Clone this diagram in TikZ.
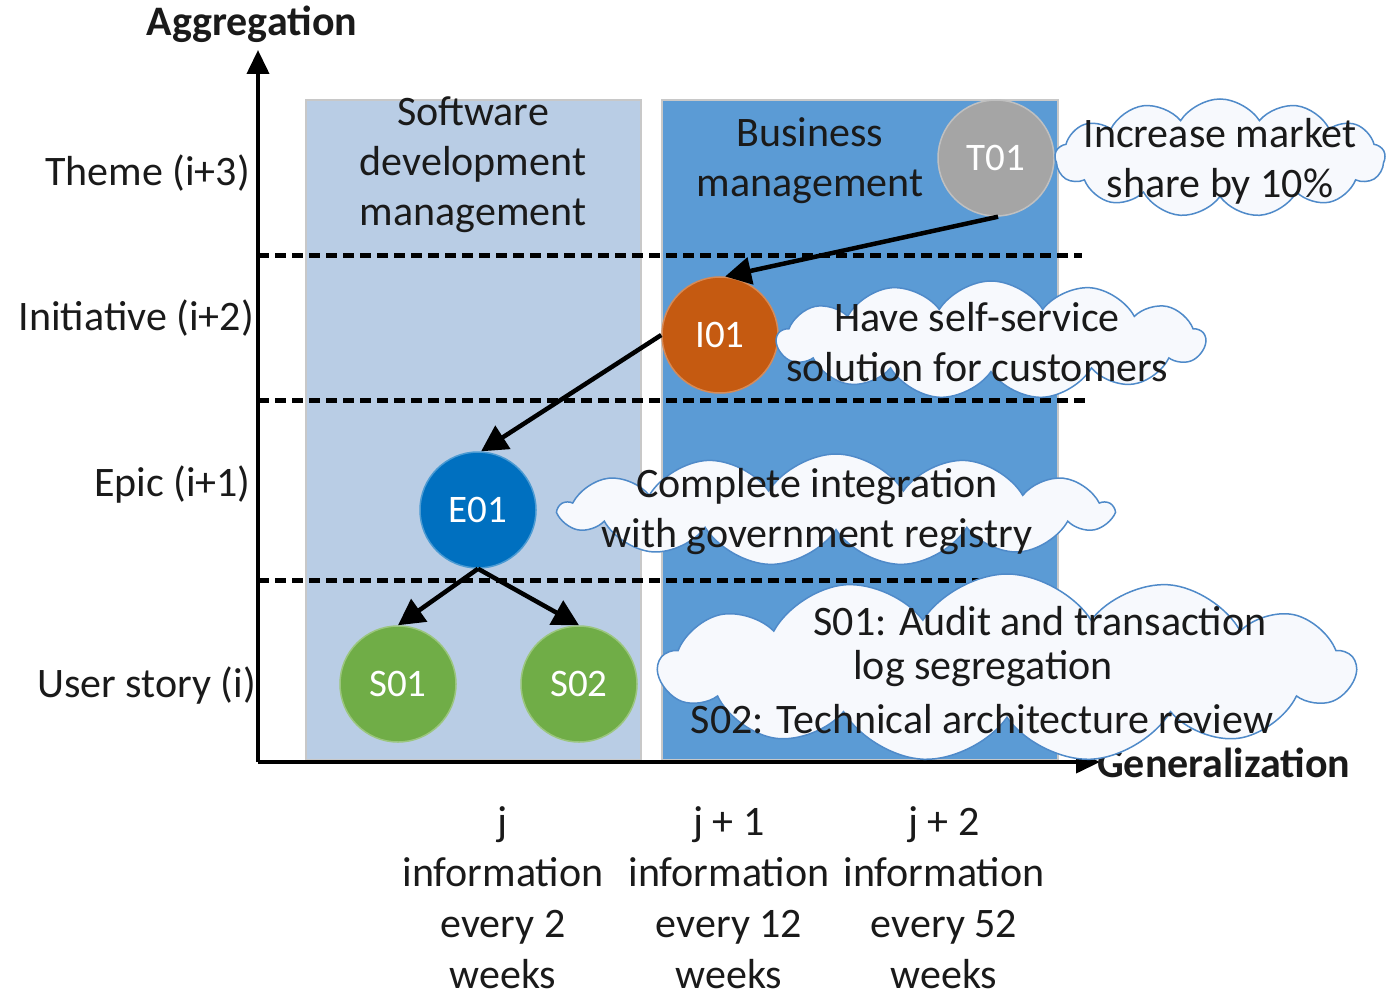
\documentclass[tikz,border=0pt]{standalone}
\usepackage{fontspec}
\setmainfont{Carlito}
\usetikzlibrary{shapes.symbols,arrows.meta}
\definecolor{lightbox}{HTML}{B9CDE5}
\definecolor{darkbox}{HTML}{5B9BD5}
\definecolor{boxedge}{HTML}{C8C8C8}
\definecolor{themec}{HTML}{A5A5A5}
\definecolor{initc}{HTML}{C55A11}
\definecolor{epicc}{HTML}{0070C0}
\definecolor{storyc}{HTML}{70AD47}
\definecolor{cloudline}{HTML}{4F8AC9}
\definecolor{cloudfill}{HTML}{F7F9FD}
\definecolor{txtc}{HTML}{1A1A1A}
\begin{document}
\begin{tikzpicture}[x=1pt,y=-1pt,
  txt/.style={font=\fontsize{42}{50}\selectfont, text=txtc, inner sep=0pt, align=center},
  low/.style={font=\fontsize{42}{51}\selectfont, text=txtc, inner sep=0pt, align=center},
  bold/.style={font=\fontsize{42}{50}\selectfont\bfseries, text=txtc, inner sep=0pt},
  circ/.style={circle, minimum size=116pt, inner sep=0pt, line width=1.5pt,
     font=\fontsize{39}{40}\selectfont, text=white},
  cloudbox/.style={cloud, cloud puffs=13, cloud puff arc=115, cloud ignores aspect,
     draw=cloudline, fill=cloudfill, line width=1.5pt, inner sep=0pt},
  sep/.style={dashed, dash pattern=on 11pt off 6pt, line width=5pt},
  axis/.style={line width=4pt, -{Triangle[length=24pt,width=22pt]}},
  link/.style={line width=4.5pt, -{Triangle[length=26pt,width=27pt]}}
]
\useasboundingbox (0,0) rectangle (1386,1000);
% columns
\fill[lightbox, draw=boxedge, line width=1.5pt] (306,100) rectangle (641,760);
\fill[darkbox, draw=boxedge, line width=1.5pt] (662,100) rectangle (1058,760);
\node[txt] (sw) at (473,165) {Software\\development\\management};
\node[txt] (bm) at (810,161) {Business\\management};
% separators
\draw[sep] (258,256) -- (1082,256);
\draw[sep] (258,400) -- (1088,400);
\draw[sep] (258,580) -- (1040,580);
% axes
\coordinate (o) at (258,762);
\coordinate (ytop) at (258,50);
\coordinate (xend) at (1100,762);
\draw[axis] (o) -- (ytop);
\draw[axis] (o) -- (xend);
\node[bold] (agg) at (252,24) {Aggregation};
\node[bold, anchor=west] (gen) at (1097,763) {Generalization};
% row labels
\node[txt, anchor=east] (l3) at (250,173) {Theme (i+3)};
\node[txt, anchor=east] (l2) at (254,318) {Initiative (i+2)};
\node[txt, anchor=east] (l1) at (251,485) {Epic (i+1)};
\node[txt, anchor=east] (l0) at (256,686) {User story (i)};
% circles
\node[circ, fill=themec, draw=themec!70!white] (T01) at (996,158) {T01};
\node[circ, fill=initc, draw=initc!70!white] (I01) at (720,335) {I01};
\node[circ, fill=epicc, draw=epicc!70!white] (E01) at (478,510) {E01};
\node[circ, fill=storyc, draw=storyc!70!white] (S01) at (398,684) {S01};
\node[circ, fill=storyc, draw=storyc!70!white] (S02) at (579,684) {S02};
% links
\draw[link] (T01.-88) -- (I01.85);
\draw[link] (I01.west) -- (E01.87);
\draw[link] (E01.south) -- (S01.north);
\draw[link] (E01.south) -- (S02.north);
% clouds
\node[cloudbox, minimum width=330pt, minimum height=118pt] (c1) at (1220,158) {};
\node[txt] (c1t) at (1220,161) {Increase market\\share by 10\%};
\node[cloudbox, minimum width=428pt, minimum height=118pt] (c2) at (991,340) {};
\node[txt] (c2t) at (977,342) {Have self-service\\solution for customers};
\node[cloudbox, minimum width=552pt, minimum height=112pt] (c3) at (836,510) {};
\node[txt] (c3t) at (817,512) {Complete integration\\with government registry};
\node[cloudbox, minimum width=696pt, minimum height=188pt] (c4) at (1007,668) {};
\node[txt] (c4a) at (1040,621) {S01: Audit and transaction};
\node[txt] (c4b) at (983,669) {log segregation};
\node[txt] (c4c) at (982,719) {S02: Technical architecture review};
% bottom labels
\node[low] (bj0) at (503,898) {j\\information\\every 2\\weeks};
\node[low] (bj1) at (729,898) {j + 1\\information\\every 12\\weeks};
\node[low] (bj2) at (944,898) {j + 2\\information\\every 52\\weeks};
\end{tikzpicture}
\end{document}
